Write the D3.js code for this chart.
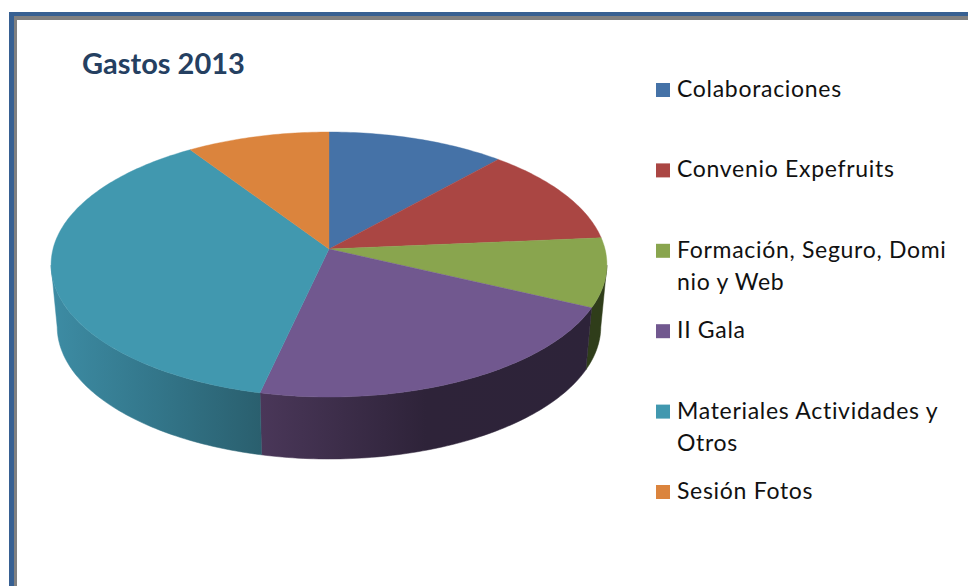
<!DOCTYPE html>
<html>
<head>
<meta charset="utf-8">
<script src="https://cdn.jsdelivr.net/npm/d3@7"></script>
<style>
  html, body { margin: 0; padding: 0; background: #fff; }
  svg { display: block; }
</style>
</head>
<body>
<script>
var categories = ["Colaboraciones", "Convenio Expefruits", "Formación, Seguro, Domi|nio y Web", "II Gala", "Materiales Actividades y|Otros", "Sesión Fotos"];
var values = [11.6, 12.0, 8.4, 21.5, 37.1, 9.3];
var colors = ["#4572a7", "#aa4643", "#89a54e", "#71588f", "#4198af", "#db843d"];
// side wall shades, left to right inside each slice
var wallShades = [
  ["#2a4568", "#2a4568", "#2a4568"],
  ["#672a28", "#672a28", "#672a28"],
  ["#2f3d1a", "#2f3d1a", "#2f3d1a"],
  ["#4a3759", "#2e2339", "#2d2339"],
  ["#3d8ca4", "#33768a", "#2a5f6e"],
  ["#854f24", "#854f24", "#854f24"]
];

var width = 968, height = 586;
var centre = {x: 329, y: 249}; // where the slices meet
var radius = 276, persp = -0.117, slope = 101.56;
var depth = 62, bottomShrink = 0.978;

var svg = d3.select("body").append("svg")
  .attr("width", width)
  .attr("height", height);

var defs = svg.append("defs");

// frame
svg.append("rect").attr("x", 9).attr("y", 12).attr("width", width).attr("height", height).attr("fill", "#376092");
svg.append("rect").attr("x", 14).attr("y", 16).attr("width", width).attr("height", height).attr("fill", "#808080");
svg.append("rect").attr("x", 17).attr("y", 20).attr("width", width).attr("height", height).attr("fill", "#fff");

// title
svg.append("text")
  .attr("x", 82)
  .attr("y", 74)
  .attr("font-family", "Lato")
  .attr("font-weight", "bold")
  .attr("font-size", "29px")
  .attr("fill", "#254061")
  .text("Gastos 2013");

// angle on the flat disc to screen position, with a bit of perspective
function project(angle, isBottom) {
  var u = Math.sin(angle), v = -Math.cos(angle);
  var w = 1 + persp * v;
  var k = isBottom ? bottomShrink : 1;
  return [
    centre.x + k * radius * u / w,
    (centre.y + slope * v) / w + (isBottom ? depth : 0)
  ];
}

var slices = d3.pie().sort(null)(values);
var stepSize = Math.PI / 180;
// the rim's left and right extremes, walls only show between them
var wallFrom = 97 * stepSize, wallTo = 263 * stepSize;

function angleSteps(a0, a1) {
  var n = Math.max(2, Math.ceil((a1 - a0) / stepSize));
  return d3.range(n + 1).map(function(i) { return a0 + (a1 - a0) * i / n; });
}

var line = d3.line();

// side walls, one path per slice with a left to right gradient
var walls = slices.map(function(d) {
  var a0 = Math.max(d.startAngle, wallFrom), a1 = Math.min(d.endAngle, wallTo);
  if (a1 <= a0) return null;
  var steps = angleSteps(a0, a1);
  var upper = steps.map(function(a) { return project(a, false); });
  var lower = steps.map(function(a) { return project(a, true); }).reverse();
  return {index: d.index, points: upper.concat(lower)};
}).filter(function(d) { return d; });

walls.forEach(function(d) {
  var xr = d3.extent(d.points, function(p) { return p[0]; });
  var grad = defs.append("linearGradient")
    .attr("id", "wall" + d.index)
    .attr("gradientUnits", "userSpaceOnUse")
    .attr("x1", xr[0]).attr("x2", xr[1])
    .attr("y1", 0).attr("y2", 0);
  wallShades[d.index].forEach(function(c, i) {
    grad.append("stop").attr("offset", i / 2).attr("stop-color", c);
  });
});

svg.append("g").selectAll("path")
  .data(walls)
  .enter().append("path")
  .attr("d", function(d) { return line(d.points) + "Z"; })
  .attr("fill", function(d) { return "url(#wall" + d.index + ")"; })
  .attr("stroke", function(d) { return "url(#wall" + d.index + ")"; })
  .attr("stroke-width", 0.5);

// top face
svg.append("g").selectAll("path")
  .data(slices)
  .enter().append("path")
  .attr("d", function(d) {
    var rim = angleSteps(d.startAngle, d.endAngle).map(function(a) { return project(a, false); });
    return line([[centre.x, centre.y]].concat(rim)) + "Z";
  })
  .attr("fill", function(d) { return colors[d.index]; })
  .attr("stroke", function(d) { return colors[d.index]; })
  .attr("stroke-width", 0.4);

// legend
var legendY = d3.scalePoint()
  .domain(categories)
  .range([90, 492]);

var legend = svg.append("g").selectAll("g")
  .data(categories)
  .enter().append("g")
  .attr("transform", function(d) { return "translate(656," + legendY(d) + ")"; });

legend.append("rect")
  .attr("y", -7)
  .attr("width", 14)
  .attr("height", 14)
  .attr("fill", function(d, i) { return colors[i]; });

legend.selectAll("text")
  .data(function(d) { return d.split("|"); })
  .enter().append("text")
  .attr("x", 21)
  .attr("y", function(d, i) { return 7 + i * 32; })
  .attr("font-family", "Lato")
  .attr("font-size", "23px")
  .attr("letter-spacing", "0.7px")
  .attr("fill", "#111")
  .text(function(d) { return d; });
</script>
</body>
</html>
